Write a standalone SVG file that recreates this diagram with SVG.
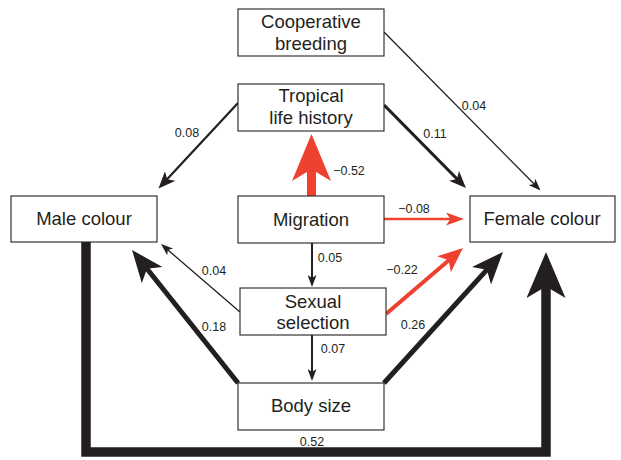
<svg xmlns="http://www.w3.org/2000/svg" width="621" height="460" viewBox="0 0 621 460">
<style>
.box{fill:#fff;stroke:#231F20;stroke-width:1.1}
.t{font-family:"Liberation Sans",Arial,sans-serif;font-size:18.5px;fill:#231F20;text-anchor:middle}
.n{font-family:"Liberation Sans",Arial,sans-serif;font-size:12.5px;fill:#231F20;text-anchor:middle}
.k{fill:none;stroke:#231F20;stroke-linejoin:miter}
.r{fill:none;stroke:#EF4130}
.hk{fill:#231F20}
.hr{fill:#EF4130}
</style>
<defs>
<marker id="mS" viewBox="0 0 10 10" refX="3" refY="5" markerWidth="12" markerHeight="9" markerUnits="userSpaceOnUse" orient="auto" preserveAspectRatio="none"><path d="M0,0 L10,5 L0,10 L2.5,5 z" class="hk"/></marker>
<marker id="mM" viewBox="0 0 10 10" refX="3" refY="5" markerWidth="17" markerHeight="14" markerUnits="userSpaceOnUse" orient="auto" preserveAspectRatio="none"><path d="M0,0 L10,5 L0,10 L2.5,5 z" class="hk"/></marker>
<marker id="mL" viewBox="0 0 10 10" refX="3" refY="5" markerWidth="32" markerHeight="26" markerUnits="userSpaceOnUse" orient="auto" preserveAspectRatio="none"><path d="M0,0 L10,5 L0,10 L2.5,5 z" class="hk"/></marker>
<marker id="mXL" viewBox="0 0 10 10" refX="3" refY="5" markerWidth="46" markerHeight="39" markerUnits="userSpaceOnUse" orient="auto" preserveAspectRatio="none"><path d="M0,0 L10,5 L0,10 L2.5,5 z" class="hk"/></marker>
<marker id="rM" viewBox="0 0 10 10" refX="3" refY="5" markerWidth="18" markerHeight="13" markerUnits="userSpaceOnUse" orient="auto" preserveAspectRatio="none"><path d="M0,0 L10,5 L0,10 L2.5,5 z" class="hr"/></marker>
<marker id="rL" viewBox="0 0 10 10" refX="3" refY="5" markerWidth="25" markerHeight="21" markerUnits="userSpaceOnUse" orient="auto" preserveAspectRatio="none"><path d="M0,0 L10,5 L0,10 L2.5,5 z" class="hr"/></marker>
<marker id="rXL" viewBox="0 0 10 10" refX="3" refY="5" markerWidth="47" markerHeight="39" markerUnits="userSpaceOnUse" orient="auto" preserveAspectRatio="none"><path d="M0,0 L10,5 L0,10 L2.5,5 z" class="hr"/></marker>
</defs>
<g id="connectors">
<line class="k" x1="384" y1="32" x2="534.6" y2="184.5" stroke-width="1.3" marker-end="url(#mS)"/>
<line class="k" x1="238" y1="103" x2="166.6" y2="179.8" stroke-width="2.2" marker-end="url(#mM)"/>
<line class="k" x1="384" y1="105" x2="457.6" y2="179.5" stroke-width="3.2" marker-end="url(#mM)"/>
<line class="r" x1="311.5" y1="196" x2="311.5" y2="166.9" stroke-width="9" marker-end="url(#rXL)"/>
<line class="r" x1="384" y1="219" x2="451.4" y2="219" stroke-width="2.5" marker-end="url(#rM)"/>
<line class="k" x1="312" y1="243" x2="312" y2="278.6" stroke-width="2" marker-end="url(#mS)"/>
<line class="k" x1="240" y1="312" x2="167.4" y2="249.5" stroke-width="1.3" marker-end="url(#mS)"/>
<line class="r" x1="386" y1="314" x2="449.7" y2="259.4" stroke-width="4" marker-end="url(#rL)"/>
<line class="k" x1="312" y1="335" x2="312" y2="372.6" stroke-width="2" marker-end="url(#mS)"/>
<line class="k" x1="238" y1="383" x2="146" y2="267.5" stroke-width="5" marker-end="url(#mL)"/>
<line class="k" x1="384" y1="383" x2="487.9" y2="268.6" stroke-width="5" marker-end="url(#mL)"/>
<path class="k" d="M86,242 V452 H546 V284.2" stroke-width="9.5" marker-end="url(#mXL)"/>
<text class="n" x="474" y="110">0.04</text>
<text class="n" x="187" y="137">0.08</text>
<text class="n" x="435" y="138">0.11</text>
<text class="n" x="349" y="175">−0.52</text>
<text class="n" x="414" y="213">−0.08</text>
<text class="n" x="330" y="262">0.05</text>
<text class="n" x="214" y="275">0.04</text>
<text class="n" x="402" y="274">−0.22</text>
<text class="n" x="214" y="331">0.18</text>
<text class="n" x="413" y="329">0.26</text>
<text class="n" x="333" y="353">0.07</text>
<text class="n" x="312" y="446">0.52</text>
</g>
<g id="cooperative-breeding"><rect class="box" x="238" y="9" width="146" height="47"/><text class="t" x="311" y="28">Cooperative</text><text class="t" x="311" y="50">breeding</text></g>
<g id="tropical-life-history"><rect class="box" x="238" y="84" width="146" height="47"/><text class="t" x="311" y="102">Tropical</text><text class="t" x="311" y="124">life history</text></g>
<g id="migration"><rect class="box" x="238" y="196" width="146" height="47"/><text class="t" x="311" y="226">Migration</text></g>
<g id="sexual-selection"><rect class="box" x="240" y="288" width="146" height="47"/><text class="t" x="313" y="308">Sexual</text><text class="t" x="313" y="329">selection</text></g>
<g id="body-size"><rect class="box" x="238" y="383" width="146" height="47"/><text class="t" x="311" y="412">Body size</text></g>
<g id="male-colour"><rect class="box" x="11" y="196" width="146" height="46"/><text class="t" x="84" y="225">Male colour</text></g>
<g id="female-colour"><rect class="box" x="470" y="196" width="145" height="46"/><text class="t" x="542" y="225">Female colour</text></g>
</svg>
